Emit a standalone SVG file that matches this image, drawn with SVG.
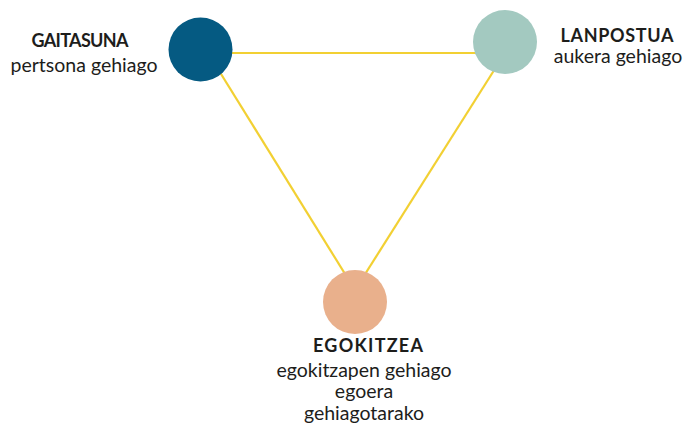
<svg xmlns="http://www.w3.org/2000/svg" width="687" height="425" viewBox="0 0 687 425">
<style>
.t{font-family:Lato,"Open Sans","Liberation Sans",sans-serif;font-size:19.5px;fill:#1d1d1b;text-anchor:middle}
.b{font-weight:bold;font-size:18px}
.e{stroke:#f2d033;stroke-width:2.2;fill:none}
</style>
<rect width="687" height="425" fill="#ffffff"/>
<g id="connectors">
<line class="e" x1="208" y1="53" x2="505" y2="53"/>
<line class="e" x1="208" y1="53" x2="355" y2="290"/>
<line class="e" x1="505" y1="53" x2="355" y2="290"/>
</g>
<g id="gaitasuna">
<circle cx="200.5" cy="49.5" r="32" fill="#055a82"/>
<text class="t b" x="80" y="46.5" textLength="97" lengthAdjust="spacing">GAITASUNA</text>
<text class="t" x="84" y="72">pertsona gehiago</text>
</g>
<g id="lanpostua">
<circle cx="505" cy="42" r="32" fill="#a3c9c0"/>
<text class="t b" x="617" y="41.5" textLength="113" lengthAdjust="spacing">LANPOSTUA</text>
<text class="t" x="618" y="62.5">aukera gehiago</text>
</g>
<g id="egokitzea">
<circle cx="355" cy="302" r="32" fill="#e9b08c"/>
<text class="t b" x="368" y="352" textLength="110" lengthAdjust="spacing">EGOKITZEA</text>
<text class="t" x="364" y="376.5">egokitzapen gehiago</text>
<text class="t" x="364" y="398">egoera</text>
<text class="t" x="364" y="420">gehiagotarako</text>
</g>
</svg>
